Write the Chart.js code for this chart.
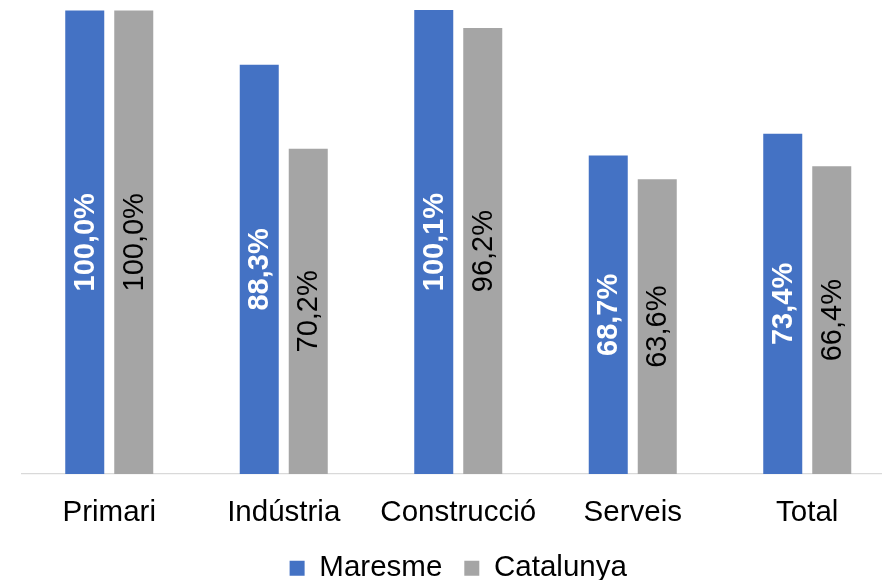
<!DOCTYPE html>
<html>
<head>
<meta charset="utf-8">
<script src="https://cdn.jsdelivr.net/npm/chart.js@4"></script>
<style>
  html, body { margin: 0; padding: 0; background: #fff; overflow: hidden; }
  #wrap { position: relative; width: 925px; height: 593px; }
</style>
</head>
<body>
<div id="wrap"><canvas id="chart"></canvas></div>
<script>
const categories = ['Primari', 'Indústria', 'Construcció', 'Serveis', 'Total'];
const maresme = [100.0, 88.3, 100.1, 68.7, 73.4];
const catalunya = [100.0, 70.2, 96.2, 63.6, 66.4];

const FONT = "'Liberation Sans', Arial, sans-serif";

function fmt(v) {
    return v.toFixed(1).replace('.', ',') + '%';
}

// draws the rotated value labels in the middle of each bar
const barLabels = {
    id: 'barLabels',
    afterDatasetsDraw(chart) {
        const ctx = chart.ctx;
        chart.data.datasets.forEach(function(ds, i) {
            const meta = chart.getDatasetMeta(i);
            meta.data.forEach(function(bar, j) {
                const cy = (bar.y + bar.base) / 2;
                ctx.save();
                ctx.translate(bar.x, cy);
                ctx.rotate(-Math.PI / 2);
                ctx.textAlign = 'center';
                ctx.textBaseline = 'middle';
                ctx.font = (i === 0 ? 'bold ' : '') + '29px ' + FONT;
                ctx.fillStyle = i === 0 ? '#ffffff' : '#000000';
                ctx.fillText(fmt(ds.data[j]), 0, 1);
                ctx.restore();
            });
        });
    }
};

const data = {
    labels: categories,
    datasets: [
        {
            label: 'Maresme',
            data: maresme,
            backgroundColor: '#4472C4',
            categoryPercentage: 0.5616,
            barPercentage: 0.796
        },
        {
            label: 'Catalunya',
            data: catalunya,
            backgroundColor: '#A5A5A5',
            categoryPercentage: 0.5616,
            barPercentage: 0.796
        }
    ]
};

const options = {
    responsive: true,
    maintainAspectRatio: false,
    animation: false,
    layout: {
        padding: { left: 22, right: 30.5, top: 10, bottom: 0 }
    },
    scales: {
        x: {
            grid: { display: false, drawTicks: false },
            border: { color: '#D9D9D9', width: 1.3 },
            ticks: {
                color: '#000000',
                padding: 21,
                font: { family: FONT, size: 29.5 }
            },
            afterFit: function(scale) {
                scale.height -= 20;
            }
        },
        y: {
            display: false,
            min: 0,
            max: 100.1
        }
    },
    plugins: {
        legend: {
            display: true,
            position: 'bottom',
            labels: {
                color: '#000000',
                boxWidth: 15,
                boxHeight: 15,
                padding: 22,
                font: { family: FONT, size: 29.5 }
            }
        },
        tooltip: { enabled: false }
    }
};

new Chart(document.getElementById('chart'), {
    type: 'bar',
    data: data,
    options: options,
    plugins: [barLabels]
});
</script>
</body>
</html>
